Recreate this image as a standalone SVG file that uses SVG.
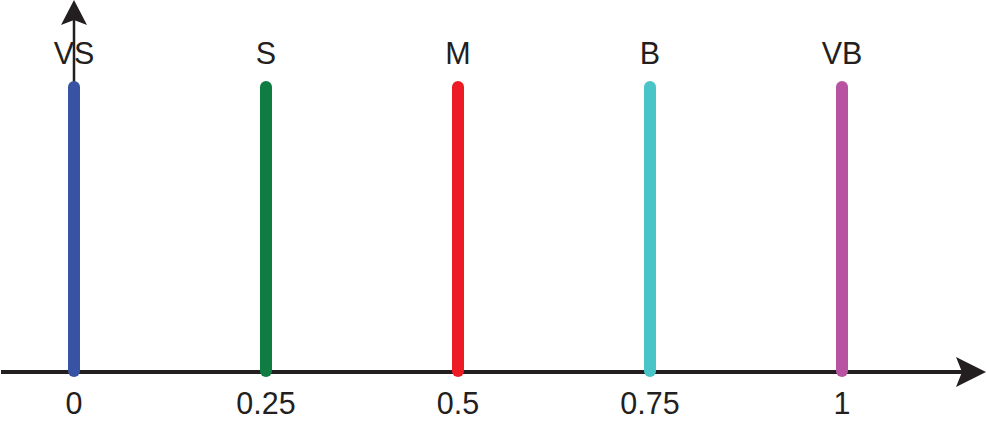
<svg xmlns="http://www.w3.org/2000/svg" width="987" height="424" viewBox="0 0 987 424">
<style>
.bar{stroke-width:12;stroke-linecap:round;fill:none}
.t{font-family:"Liberation Sans",Arial,sans-serif;font-size:30.5px;fill:#231f20;text-anchor:middle}
.ax{stroke:#231f20;fill:none}
</style>
<rect width="987" height="424" fill="#fff"/>
<g id="axes">
<line class="ax" x1="1" y1="372" x2="962" y2="372" stroke-width="4"/>
<path d="M986,372 L956,357 L962,372 L956,387 Z" fill="#231f20"/>
<line class="ax" x1="74" y1="20" x2="74" y2="372" stroke-width="2.5"/>
<path d="M74,0 L61,25 L74,20 L87,25 Z" fill="#231f20"/>
</g>
<g id="VS"><line class="bar" stroke="#3953a4" x1="74" y1="87" x2="74" y2="371"/><text class="t" x="74" y="64">VS</text><text class="t" x="74" y="414">0</text></g>
<g id="S"><line class="bar" stroke="#0f7d41" x1="266" y1="87" x2="266" y2="371"/><text class="t" x="266" y="64">S</text><text class="t" x="266" y="414">0.25</text></g>
<g id="M"><line class="bar" stroke="#ed1c24" x1="458" y1="87" x2="458" y2="371"/><text class="t" x="458" y="64">M</text><text class="t" x="458" y="414">0.5</text></g>
<g id="B"><line class="bar" stroke="#49c5c8" x1="650" y1="87" x2="650" y2="371"/><text class="t" x="650" y="64">B</text><text class="t" x="650" y="414">0.75</text></g>
<g id="VB"><line class="bar" stroke="#b853a1" x1="842" y1="87" x2="842" y2="371"/><text class="t" x="842" y="64">VB</text><text class="t" x="842" y="414">1</text></g>
</svg>
